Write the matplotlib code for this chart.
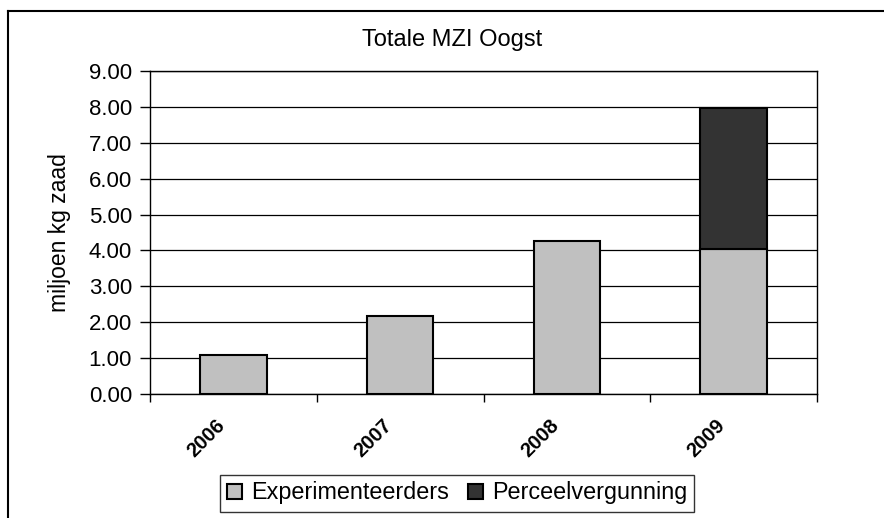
import matplotlib.pyplot as plt
from matplotlib.lines import Line2D
from matplotlib.ticker import FixedLocator, FormatStrFormatter
from matplotlib.transforms import ScaledTranslation

plt.rcParams['font.family'] = ['Liberation Sans', 'DejaVu Sans']

years = ['2006', '2007', '2008', '2009']
experimenteerders = [1.08, 2.18, 4.27, 4.04]
perceelvergunning = [0.0, 0.0, 0.0, 3.92]
yticks = [0, 1, 2, 3, 4, 5, 6, 7, 8, 9]

W, H = 884, 518
fig = plt.figure(figsize=(W / 100, H / 100), dpi=100)
ax = fig.add_axes([150 / W, 1 - 394 / H, 667 / W, 323 / H])

x = list(range(len(years)))
ax.bar(x, experimenteerders, width=0.4, color='#C0C0C0', edgecolor='black',
       linewidth=1.5, label='Experimenteerders', zorder=3)
ax.bar(x[3:], perceelvergunning[3:], width=0.4, bottom=experimenteerders[3:],
       color='#333333', edgecolor='black', linewidth=1.5,
       label='Perceelvergunning', zorder=3)

ax.set_xlim(-0.5, len(years) - 0.5)
ax.set_ylim(0, 9)
ax.set_yticks(yticks)
ax.yaxis.set_major_formatter(FormatStrFormatter('%.2f'))
ax.grid(axis='y', color='black', linewidth=0.9, zorder=0)

# category labels, drawn as text so they can be nudged like in the original
ax.set_xticks(x)
ax.set_xticklabels([])
shift = ScaledTranslation(-18 / 100, -22 / 100, fig.dpi_scale_trans)
for xi, yr in zip(x, years):
    ax.text(xi, 0, yr, transform=ax.get_xaxis_transform() + shift,
            rotation=45, rotation_mode='anchor', ha='right', va='top',
            fontsize=14.5, fontweight='bold')
ax.xaxis.set_minor_locator(FixedLocator([i - 0.5 for i in range(len(years) + 1)]))
ax.tick_params(axis='x', which='major', length=0)
ax.tick_params(axis='x', which='minor', length=6, width=1, direction='out')
ax.tick_params(axis='y', length=7, width=1, labelsize=16, pad=6)

for s in ax.spines.values():
    s.set_color('black')
    s.set_linewidth(1.0)

ax.set_ylabel('miljoen kg zaad', fontsize=16.5)
ax.yaxis.set_label_coords(-0.118, 0.5)

fig.text(452 / W, 1 - 40 / H, 'Totale MZI Oogst', fontsize=17,
         ha='center', va='center')

leg = ax.legend(loc='center', bbox_to_anchor=(457 / W, 1 - 493 / H),
                bbox_transform=fig.transFigure, ncol=2, fontsize=16.8,
                frameon=True, fancybox=False, handlelength=0.65,
                handleheight=0.65, handletextpad=0.4, columnspacing=0.8,
                borderpad=0.3)
leg.get_frame().set_edgecolor('black')
leg.get_frame().set_linewidth(1.0)

# outer chart frame (cropped at right and bottom)
fig.add_artist(Line2D([8 / W, 8 / W], [0, 1 - 11 / H], color='black',
                      linewidth=1.5, transform=fig.transFigure))
fig.add_artist(Line2D([8 / W, 1], [1 - 11 / H, 1 - 11 / H], color='black',
                      linewidth=1.5, transform=fig.transFigure))

fig.savefig('out.png', dpi=100)
